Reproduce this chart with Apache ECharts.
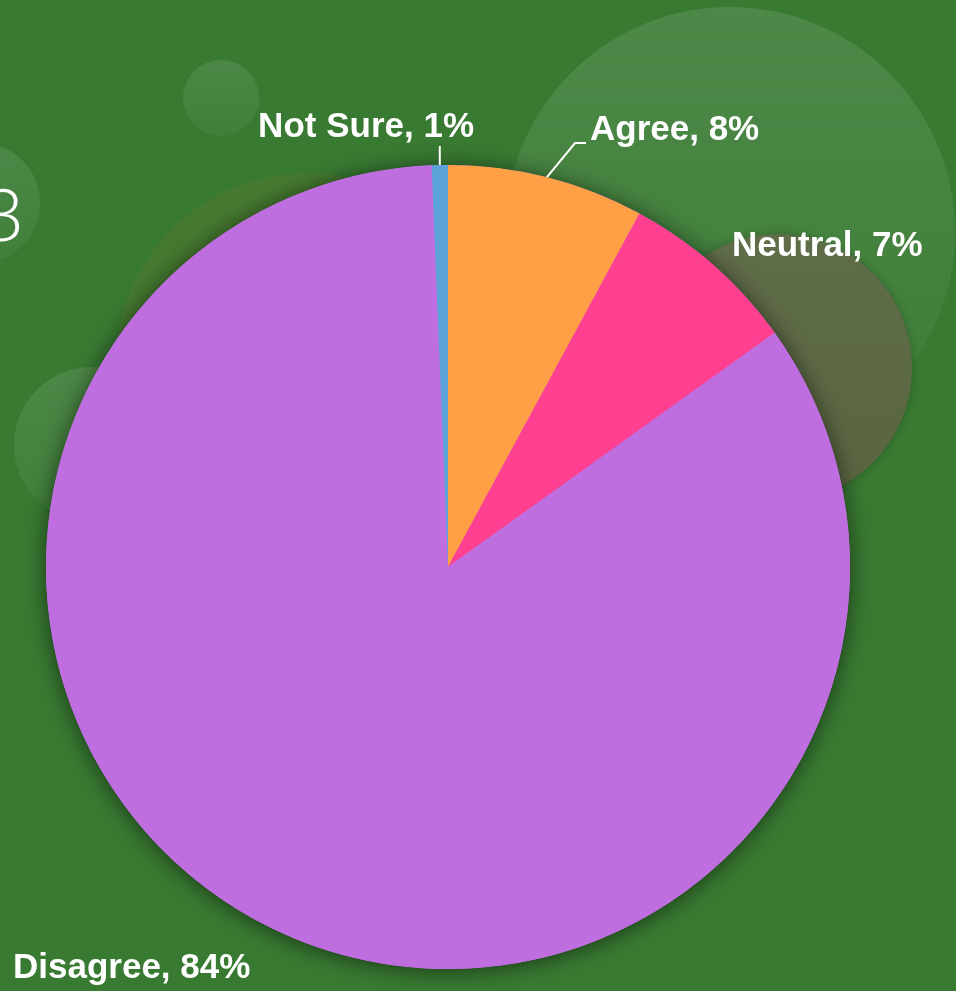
<!DOCTYPE html>
<html><head><meta charset="utf-8">
<style>html,body{margin:0;padding:0;background:#387a32;}#c{width:956px;height:991px;}</style>
<script src="https://cdn.jsdelivr.net/npm/echarts@6/dist/echarts.min.js"></script>
</head><body><div id="c"></div>
<script>
const categories = ['Agree', 'Neutral', 'Disagree', 'Not Sure'];
const values = [7.9, 7.2, 84.25, 0.65];
const colors = ['#ffa047', '#ff4091', '#bf6ee0', '#5ba3d9'];

const labelSpots = [
  {x: 590, y: 130, align: 'left'},
  {x: 732, y: 246, align: 'left'},
  {x: 13, y: 968, align: 'left'},
  {x: 474, y: 127, align: 'right'}
];
const lineStyleKind = ['elbow', 'none', 'none', 'vertical'];

const chart = echarts.init(document.getElementById('c'), null, {renderer: 'canvas'});
chart.setOption({
  backgroundColor: '#387a32',
  animation: false,
  graphic: [
    {type: 'circle', z: -10, shape: {cx: 730, cy: 232, r: 225},
      style: {fill: new echarts.graphic.LinearGradient(0, 0, 0, 1, [
        {offset: 0, color: 'rgba(255,255,255,0.11)'},
        {offset: 1, color: 'rgba(255,255,255,0.02)'}])}},
    {type: 'circle', z: -9, shape: {cx: 778, cy: 368, r: 134},
      style: {fill: new echarts.graphic.LinearGradient(0, 0, 0, 1, [
        {offset: 0, color: '#606d49'},
        {offset: 1, color: '#596541'}]),
        shadowBlur: 10, shadowColor: 'rgba(0,0,0,0.25)'}},
    {type: 'circle', z: -10, shape: {cx: 307, cy: 364, r: 191}, style: {fill: 'rgba(156,122,40,0.15)'}},
    {type: 'circle', z: -10, shape: {cx: 221, cy: 98, r: 38},
      style: {fill: new echarts.graphic.LinearGradient(0, 0, 0, 1, [
        {offset: 0, color: 'rgba(255,255,255,0.1)'},
        {offset: 1, color: 'rgba(255,255,255,0.04)'}])}},
    {type: 'circle', z: -10, shape: {cx: -20, cy: 203, r: 60},
      style: {fill: new echarts.graphic.LinearGradient(0, 0, 0, 1, [
        {offset: 0, color: 'rgba(255,255,255,0.1)'},
        {offset: 1, color: 'rgba(255,255,255,0.04)'}])}},
    {type: 'circle', z: -10, shape: {cx: 92, cy: 445, r: 78},
      style: {fill: new echarts.graphic.LinearGradient(0, 0, 0, 1, [
        {offset: 0, color: 'rgba(255,255,255,0.1)'},
        {offset: 1, color: 'rgba(255,255,255,0.04)'}])}},
    {type: 'text', z: -5, x: 24, y: 220, style: {text: '3', fill: '#ffffff', font: '300 72px "Open Sans", sans-serif', textAlign: 'right', textVerticalAlign: 'middle'}}
  ],
  series: [
    {
      type: 'pie', silent: true, center: [448, 567], radius: 402, z: 1,
      label: {show: false}, labelLine: {show: false},
      itemStyle: {color: '#bf6ee0', shadowBlur: 22, shadowColor: 'rgba(0,0,0,0.55)', shadowOffsetX: 0, shadowOffsetY: 2},
      data: [{value: 1, name: ''}]
    },
    {
      type: 'pie', center: [448, 567], radius: 402, z: 2,
      startAngle: 90, clockwise: true, avoidLabelOverlap: false,
      itemStyle: {borderWidth: 0},
      label: {
        show: true, position: 'outside', color: '#ffffff',
        fontFamily: '"Liberation Sans", Arial, sans-serif', fontWeight: 'bold', fontSize: 35,
        formatter: p => p.name + ', ' + Math.round(p.percent) + '%'
      },
      labelLine: {show: true, length: 15, length2: 10, lineStyle: {color: '#ffffff', width: 2}},
      labelLayout: p => {
        const s = labelSpots[p.dataIndex];
        const kind = lineStyleKind[p.dataIndex];
        const res = {x: s.x, y: s.y, align: s.align, verticalAlign: 'middle'};
        const a = p.labelLinePoints && p.labelLinePoints[0];
        if (a && kind === 'elbow') {
          const yb = s.y + 13;
          res.labelLinePoints = [[a[0], a[1]], [s.x - 15, yb], [s.x - 4, yb]];
        } else if (a && kind === 'vertical') {
          res.labelLinePoints = [[a[0], a[1]], [a[0], s.y + 19]];
        }
        return res;
      },
      data: categories.map((c, i) => ({
        name: c, value: values[i], itemStyle: {color: colors[i]},
        labelLine: {show: lineStyleKind[i] !== 'none'}
      }))
    }
  ]
});
</script></body></html>
